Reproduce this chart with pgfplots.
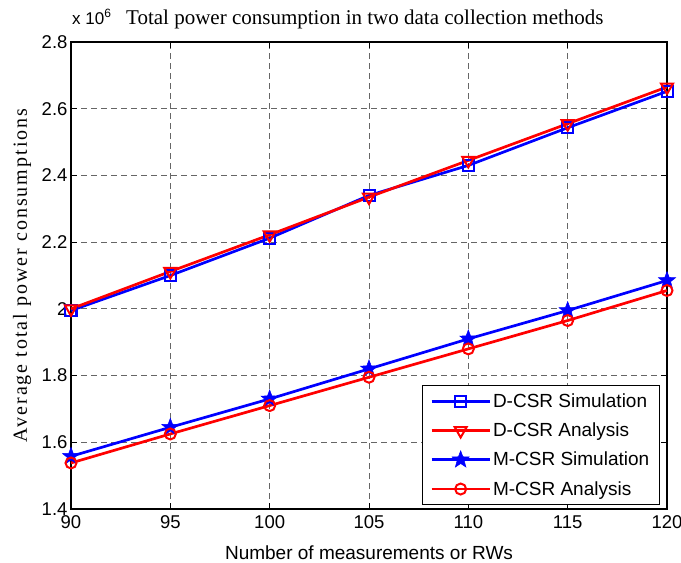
\documentclass[border=0pt]{standalone}
\usepackage{pgfplots}
\pgfplotsset{compat=1.18}
\usepackage{fontspec}
\setmainfont{Liberation Sans}
\newfontfamily\seriffont{Liberation Serif}
\newfontfamily\seriflsp[LetterSpace=10]{Liberation Serif}
\pgfdeclareplotmark{fstar}{%
  \pgfpathmoveto{\pgfpointpolar{90}{\pgfplotmarksize}}%
  \pgfpathlineto{\pgfpointpolar{126}{0.42\pgfplotmarksize}}%
  \pgfpathlineto{\pgfpointpolar{162}{\pgfplotmarksize}}%
  \pgfpathlineto{\pgfpointpolar{198}{0.42\pgfplotmarksize}}%
  \pgfpathlineto{\pgfpointpolar{234}{\pgfplotmarksize}}%
  \pgfpathlineto{\pgfpointpolar{270}{0.42\pgfplotmarksize}}%
  \pgfpathlineto{\pgfpointpolar{306}{\pgfplotmarksize}}%
  \pgfpathlineto{\pgfpointpolar{342}{0.42\pgfplotmarksize}}%
  \pgfpathlineto{\pgfpointpolar{18}{\pgfplotmarksize}}%
  \pgfpathlineto{\pgfpointpolar{54}{0.42\pgfplotmarksize}}%
  \pgfpathclose
  \pgfusepathqfillstroke}
\begin{document}
\begin{tikzpicture}
\begin{axis}[
  scale only axis,
  width=596pt, height=467pt,
  xmin=90, xmax=120, ymin=1.4, ymax=2.8,
  clip=false,
  xtick={90,95,...,120},
  ytick={1.4,1.6,...,2.8},
  yticklabels={1.4,1.6,1.8,2,2.2,2.4,2.6,2.8},
  scaled y ticks=false,
  /pgf/number format/assume math mode=true,
  tick label style={font=\fontsize{18.5}{21}\selectfont},
  xticklabel style={yshift=-3pt},
  tick align=inside,
  major tick length=6pt,
  tick style={black, line width=0.8pt},
  xmajorgrids, ymajorgrids,
  grid style={black!60, line width=0.8pt, dash pattern=on 6pt off 4pt},
  axis line style={black, line width=1.2pt},
  xlabel={Number of measurements or RWs},
  xlabel style={font=\fontsize{19}{22}\selectfont, at={(rel axis cs:0.5,0)}, anchor=base, yshift=-50pt},
  ylabel={\seriflsp Average total power consumptions},
  ylabel style={font=\fontsize{20}{23}\selectfont, at={(rel axis cs:0,0.5)}, anchor=center, yshift=49pt},
  legend style={at={(rel axis cs:0.988,0.008)}, anchor=south east,
    font=\fontsize{19}{22}\selectfont, draw=black, line width=1.2pt,
    row sep=10pt, inner xsep=8pt, inner ysep=6pt},
  legend cell align=left,
  legend image code/.code={\draw[mark repeat=2, mark phase=2] plot coordinates {(0pt,0pt) (29pt,0pt) (58pt,0pt)};},
  every axis plot/.append style={line width=2.7pt},
]
\addplot[blue, mark=square, mark size=5.5pt, mark options={solid, line width=2pt}]
 coordinates {(90,1.995) (95,2.10) (100,2.212) (105,2.34) (110,2.43) (115,2.543) (120,2.652)};
\addlegendentry{D-CSR Simulation}
\addplot[red, mark=triangle, mark size=7pt, mark options={solid, rotate=180, line width=2pt}]
 coordinates {(90,2.00) (95,2.112) (100,2.222) (105,2.335) (110,2.445) (115,2.555) (120,2.665)};
\addlegendentry{D-CSR Analysis}
\addplot[blue, mark=fstar, mark size=9pt, mark options={solid, line width=0.5pt, fill=blue}]
 coordinates {(90,1.558) (95,1.645) (100,1.73) (105,1.82) (110,1.91) (115,1.995) (120,2.085)};
\addlegendentry{M-CSR Simulation}
\addplot[red, mark=o, mark size=5.5pt, mark options={solid, line width=2pt}]
 coordinates {(90,1.538) (95,1.625) (100,1.71) (105,1.795) (110,1.88) (115,1.965) (120,2.055)};
\addlegendentry{M-CSR Analysis}
\node[anchor=base west, inner sep=0pt, font=\fontsize{17}{20}\selectfont] at ([xshift=1pt, yshift=17pt]rel axis cs:0,1) {x 10\raisebox{7pt}{\fontsize{12}{14}\selectfont 6}};
\node[anchor=base west, inner sep=0pt, font=\seriffont\fontsize{21}{24}\selectfont] at ([xshift=55pt, yshift=17pt]rel axis cs:0,1) {Total power consumption in two data collection methods};
\coordinate (sw) at (rel axis cs:0,0);
\coordinate (ne) at (rel axis cs:1,1);
\end{axis}
\pgfresetboundingbox
\path ([xshift=-71pt, yshift=-53pt]sw) rectangle ([xshift=14pt, yshift=42pt]ne);
\end{tikzpicture}
\end{document}
